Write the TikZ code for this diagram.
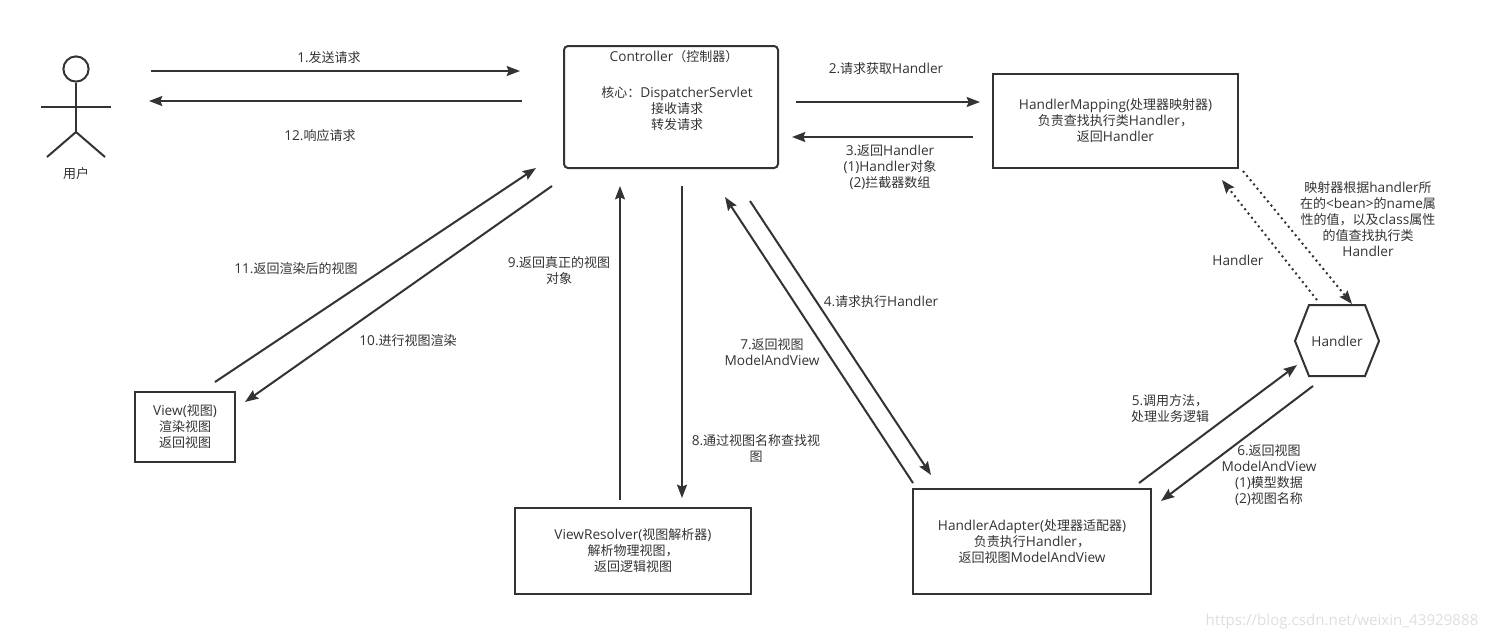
\documentclass[tikz,border=0pt]{standalone}
\usepackage{fontspec}
\setmainfont[Scale=1.05]{Open Sans}
\newfontfamily\cjkf{Noto Sans CJK SC}
\XeTeXinterchartokenstate=1
\newXeTeXintercharclass\cjkclass
\newcount\cjkcnt
\cjkcnt="3000
\loop\ifnum\cjkcnt<"3040 \XeTeXcharclass\cjkcnt=\cjkclass \advance\cjkcnt by 1 \repeat
\cjkcnt="4E00
\loop\ifnum\cjkcnt<"A000 \XeTeXcharclass\cjkcnt=\cjkclass \advance\cjkcnt by 1 \repeat
\cjkcnt="FF00
\loop\ifnum\cjkcnt<"FFF0 \XeTeXcharclass\cjkcnt=\cjkclass \advance\cjkcnt by 1 \repeat
\XeTeXinterchartoks 0 \cjkclass={\cjkf}
\XeTeXinterchartoks 4095 \cjkclass={\cjkf}
\XeTeXinterchartoks \cjkclass 0={\rmfamily}
\XeTeXinterchartoks \cjkclass 4095={\rmfamily}
\usetikzlibrary{arrows.meta}
\definecolor{ink}{HTML}{333333}
\tikzset{
  arr/.style={draw=ink,line width=1.5pt,-{Stealth[length=10pt,width=7.5pt,inset=1.5pt]}},
  dotarr/.style={arr,dash pattern=on 1.5pt off 2.6pt},
  plain/.style={draw=ink,line width=1.5pt},
  box/.style={draw=ink,line width=1.5pt,align=center,inner sep=0pt,text=ink,font=\fontsize{9.75}{12}\selectfont},
  lbl/.style={align=center,inner sep=0pt,text=ink,font=\fontsize{9.75}{12}\selectfont},
}
\begin{document}
\begin{tikzpicture}[x=.75pt,y=-.75pt]
\useasboundingbox (0,0) rectangle (1487,640);
% actor
\coordinate (hip) at (76,132);
\coordinate (armL) at (41,107);
\coordinate (armR) at (111,107);
\coordinate (legL) at (47,157);
\coordinate (legR) at (105,157);
\node[plain,circle,minimum size=18.9pt,inner sep=0pt] (head) at (76,69) {};
\draw[plain] (head.south) -- (hip);
\draw[plain] (armL) -- (armR);
\draw[plain] (legL) -- (hip) -- (legR);
\node[lbl] (user) at (76,173.5) {用户};
% boxes
\node[box,rounded corners=3pt,minimum width=160.5pt,minimum height=91.5pt] (ctrl) at (671,107) {};
\node[lbl] (ctrlA) at (674,56.5) {Controller（控制器）};
\node[lbl] (ctrlB) at (677,108.5) {核心：DispatcherServlet\\接收请求\\转发请求};
\node[box,minimum width=183.75pt,minimum height=70.5pt] (map) at (1115.5,121) {HandlerMapping(处理器映射器)\\负责查找执行类Handler，\\返回Handler};
\node[box,minimum width=178.5pt,minimum height=78.75pt] (adapter) at (1032,541.5) {HandlerAdapter(处理器适配器)\\负责执行Handler，\\返回视图ModelAndView};
\node[box,minimum width=177pt,minimum height=64.5pt] (resolver) at (633,551) {ViewResolver(视图解析器)\\解析物理视图，\\返回逻辑视图};
\node[box,minimum width=75pt,minimum height=52.5pt] (view) at (185,427) {View(视图)\\渲染视图\\返回视图};
\node[lbl] (handler) at (1337,341.5) {Handler};
\draw[plain,line join=miter] (1309,305) -- (1365,305) -- (1379,341) -- (1365,376) -- (1309,376) -- (1295,341) -- cycle;
% connector ends
\foreach \n/\p in {a1/{151,71},b1/{520,71},a12/{522,101},b12/{149,101},a2/{796,102},b2/{980,102},a3/{973,137},b3/{792,137},
  a11/{215,382},b11/{536,168},a10/{552,186},b10/{245,402},a9/{620,500},b9/{620,186},a8/{682,186},b8/{682,498},
  a4/{750,201},b4/{931,475},a7/{913,483},b7/{725,197},a5/{1139,483},b5/{1297,365},a6/{1313,386},b6/{1161,501},
  au/{1317,300},bu/{1222,180},ad/{1243,171},bd/{1352,304}}
  {\coordinate (\n) at (\p);}
% connectors
\foreach \n in {1,12,2,3,11,10,9,8,4,7,5,6} {\draw[arr] (a\n) -- (b\n);}
\draw[dotarr] (au) -- (bu);
\draw[dotarr] (ad) -- (bd);
% labels
\node[lbl] (l1) at (329,57.5) {1.发送请求};
\node[lbl] (l12) at (320,135.5) {12.响应请求};
\node[lbl] (l2) at (886,68.5) {2.请求获取Handler};
\node[lbl] (l3) at (890,167.5) {3.返回Handler\\(1)Handler对象\\(2)拦截器数组};
\node[lbl] (lm) at (1368,219.5) {映射器根据handler所\\在的<bean>的name属\\性的值，以及class属性\\的值查找执行类\\Handler};
\node[lbl] (lh) at (1238,260.5) {Handler};
\node[lbl] (l4) at (881,301.5) {4.请求执行Handler};
\node[lbl] (l7) at (772,352.5) {7.返回视图\\ModelAndView};
\node[lbl] (l9) at (559,270.5) {9.返回真正的视图\\对象};
\node[lbl] (l8) at (756,448.5) {8.通过视图名称查找视\\图};
\node[lbl] (l11) at (296,268.5) {11.返回渲染后的视图};
\node[lbl] (l10) at (408,340.5) {10.进行视图渲染};
\node[lbl] (l5) at (1170,408.5) {5.调用方法，\\处理业务逻辑};
\node[lbl] (l6) at (1269,475.5) {6.返回视图\\ModelAndView\\(1)模型数据\\(2)视图名称};
\node[inner sep=0pt,text=black!13,font=\fontsize{10.8}{14}\selectfont] (wm) at (1342,622) {https://blog.csdn.net/weixin\_43929888};
\end{tikzpicture}
\end{document}
